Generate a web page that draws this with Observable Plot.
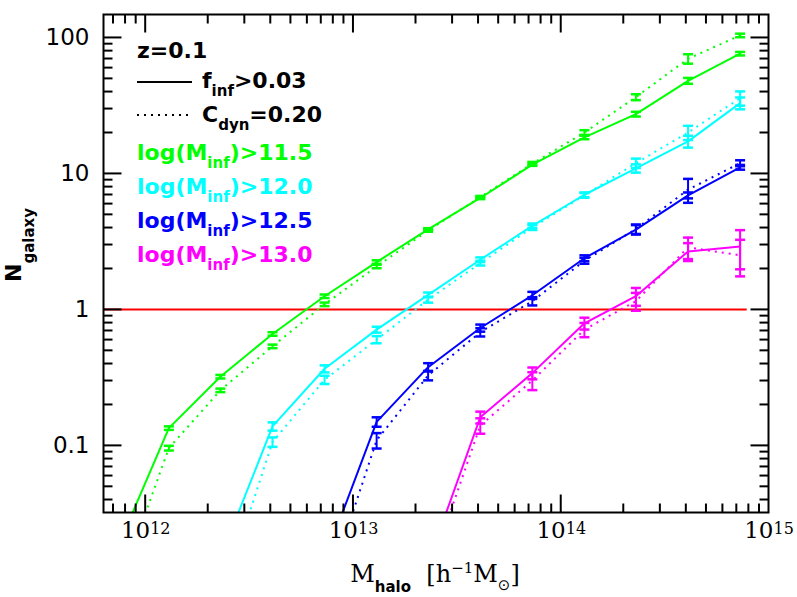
<!DOCTYPE html>
<html>
<head>
<meta charset="utf-8">
<script src="https://cdn.jsdelivr.net/npm/d3@7"></script>
<script src="https://cdn.jsdelivr.net/npm/@observablehq/plot@0.6"></script>
<style>
  html, body { margin: 0; padding: 0; background: #fff; }
  #chart svg { display: block; }
</style>
</head>
<body>
<div id="chart"></div>
<script>
// ---------------- data ----------------
const haloMass = [7.3e11, 1.3e12, 2.3e12, 4.1e12, 7.3e12, 1.3e13, 2.3e13, 4.1e13, 7.3e13, 1.3e14, 2.3e14, 4.1e14, 7.3e14];
const thresholds = ["11.5", "12.0", "12.5", "13.0"];
const seriesColors = ["#00ff00", "#00ffff", "#0000ff", "#ff00ff"];

// solid: f_inf > 0.03 ; dotted: C_dyn = 0.20
const nSolid115  = [0.0172, 0.134, 0.32, 0.66, 1.25, 2.23, 3.88, 6.6, 11.6, 18.4, 27.3, 48, 76];
const nDotted115 = [0.0082, 0.0955, 0.254, 0.535, 1.09, 2.07, 3.8, 6.7, 11.8, 20.0, 36.4, 69.7, 103.5];
const nSolid120  = [null, null, 0.0148, 0.138, 0.366, 0.71, 1.28, 2.32, 4.12, 6.97, 10.9, 17.2, 32.9];
const nDotted120 = [null, null, 0.007, 0.106, 0.304, 0.60, 1.18, 2.19, 4.0, 6.9, 11.9, 20.0, 35.8];
const nSolid125  = [null, null, null, null, 0.0143, 0.149, 0.376, 0.73, 1.27, 2.38, 3.86, 6.9, 11.1];
const nDotted125 = [null, null, null, null, 0.0076, 0.109, 0.327, 0.68, 1.15, 2.28, 3.9, 7.6, 11.9];
const nSolid130  = [null, null, null, null, null, null, 0.0136, 0.161, 0.34, 0.79, 1.25, 2.67, 2.9];
const nDotted130 = [null, null, null, null, null, null, 0.0109, 0.14, 0.30, 0.71, 1.15, 2.86, 2.5];

// relative (fractional) errors
const errSolid115  = [0, 0.03, 0.03, 0.03, 0.03, 0.03, 0.02, 0.02, 0.02, 0.03, 0.04, 0.05, 0.03];
const errDotted115 = [0, 0.04, 0.03, 0.03, 0.03, 0.03, 0.02, 0.02, 0.03, 0.04, 0.05, 0.08, 0.03];
const errSolid120  = [0, 0, 0, 0.07, 0.06, 0.05, 0.04, 0.04, 0.04, 0.04, 0.07, 0.10, 0.10];
const errDotted120 = [0, 0, 0, 0.08, 0.07, 0.06, 0.05, 0.04, 0.04, 0.04, 0.08, 0.12, 0.12];
const errSolid125  = [0, 0, 0, 0, 0, 0.08, 0.07, 0.06, 0.06, 0.05, 0.08, 0.05, 0.04];
const errDotted125 = [0, 0, 0, 0, 0, 0.13, 0.08, 0.07, 0.07, 0.05, 0.08, 0.20, 0.05];
const errSolid130  = [0, 0, 0, 0, 0, 0, 0, 0.10, 0.10, 0.10, 0.15, 0.15, 0.32];
const errDotted130 = [0, 0, 0, 0, 0, 0, 0, 0.13, 0.15, 0.12, 0.15, 0.18, 0.30];

const xTickExponents = [12, 13, 14, 15];
const yTickValues = [0.1, 1, 10, 100];
const yTickLabels = ["0.1", "1", "10", "100"];
const referenceLevel = [1];
const referenceLineX = [6.3e11, 7.9e14];

const legendTitle = "z=0.1";
const legendSolid = ["f", "inf", ">0.03"];
const legendDotted = ["C", "dyn", "=0.20"];

// ---------------- layout ----------------
const W = 797, H = 597;
const mLeft = 103, mRight = 29, mTop = 14, mBottom = 85;
const xDomain = [6.3e11, 1e15];
const yDomain = [0.0321, 147.5];

const seriesDefs = [
  [nSolid115, errSolid115, nDotted115, errDotted115],
  [nSolid120, errSolid120, nDotted120, errDotted120],
  [nSolid125, errSolid125, nDotted125, errDotted125],
  [nSolid130, errSolid130, nDotted130, errDotted130]
];

function rowsFor(values, errs) {
  const out = [];
  values.forEach((v, i) => { if (v != null) out.push({mass: haloMass[i], n: v, err: errs[i]}); });
  return out;
}

const capSymbol = {draw(ctx) { ctx.moveTo(-5, 0); ctx.lineTo(5, 0); }};
const tickSym = (len, dir) => ({draw(ctx) {
  ctx.moveTo(0, 0);
  if (dir === "up") ctx.lineTo(0, -len);
  else if (dir === "down") ctx.lineTo(0, len);
  else if (dir === "right") ctx.lineTo(len, 0);
  else ctx.lineTo(-len, 0);
}});

const xMajor = xTickExponents.map(e => Math.pow(10, e));
const xMinor = [];
for (let e = 11; e <= 14; e++) for (let k = 2; k <= 9; k++) {
  const v = k * Math.pow(10, e);
  if (v > xDomain[0] && v < xDomain[1]) xMinor.push(v);
}
const yMinor = [];
for (let e = -2; e <= 2; e++) for (let k = 2; k <= 9; k++) {
  const v = k * Math.pow(10, e);
  if (v > yDomain[0] && v < yDomain[1]) yMinor.push(v);
}

const marks = [];
// reference line N=1
marks.push(Plot.ruleY(referenceLevel, {y: d => d, x1: () => referenceLineX[0], x2: () => referenceLineX[1], stroke: "#ff0000", strokeWidth: 2}));

seriesDefs.forEach(([sv, se, dv, de], si) => {
  const color = seriesColors[si];
  [[sv, se, null], [dv, de, "2,5"]].forEach(([vals, errs, dash]) => {
    const rows = rowsFor(vals, errs);
    marks.push(Plot.line(rows, {x: "mass", y: "n", stroke: color, strokeWidth: 2, strokeDasharray: dash,
      strokeLinecap: dash ? "butt" : "round", strokeLinejoin: "round", clip: true}));
    const eb = rows.filter(d => d.err > 0 && d.n > yDomain[0]);
    marks.push(Plot.ruleX(eb, {x: "mass", y1: d => d.n * (1 - d.err), y2: d => d.n * (1 + d.err), stroke: color, strokeWidth: 2, clip: true}));
    marks.push(Plot.dot(eb, {x: "mass", y: d => d.n * (1 - d.err), symbol: capSymbol, stroke: color, fill: "none", strokeWidth: 2.5}));
    marks.push(Plot.dot(eb, {x: "mass", y: d => d.n * (1 + d.err), symbol: capSymbol, stroke: color, fill: "none", strokeWidth: 2.5}));
  });
});

// inward ticks on all four sides
const tickStyle = {stroke: "black", fill: "none", strokeWidth: 2};
marks.push(
  Plot.dot(xMajor.filter(v => v < xDomain[1]), {x: d => d, y: () => yDomain[0], symbol: tickSym(18, "up"), ...tickStyle}),
  Plot.dot(xMinor, {x: d => d, y: () => yDomain[0], symbol: tickSym(9, "up"), ...tickStyle}),
  Plot.dot(xMajor.filter(v => v < xDomain[1]), {x: d => d, y: () => yDomain[1], symbol: tickSym(18, "down"), ...tickStyle}),
  Plot.dot(xMinor, {x: d => d, y: () => yDomain[1], symbol: tickSym(9, "down"), ...tickStyle}),
  Plot.dot(yTickValues, {y: d => d, x: () => xDomain[0], symbol: tickSym(18, "right"), ...tickStyle}),
  Plot.dot(yMinor, {y: d => d, x: () => xDomain[0], symbol: tickSym(9, "right"), ...tickStyle}),
  Plot.dot(yTickValues, {y: d => d, x: () => xDomain[1], symbol: tickSym(18, "left"), ...tickStyle}),
  Plot.dot(yMinor, {y: d => d, x: () => xDomain[1], symbol: tickSym(9, "left"), ...tickStyle})
);

// tick labels
marks.push(
  Plot.text(yTickValues, {y: d => d, frameAnchor: "left", dx: -14, textAnchor: "end", text: (d, i) => yTickLabels[i], fontSize: 23, fontFamily: "DejaVu Sans", fill: "black"}),
  Plot.text(xMajor, {x: d => d, frameAnchor: "bottom", dy: 25, dx: 5, textAnchor: "end", text: () => "10", fontSize: 23, fontFamily: "DejaVu Serif", fill: "black"}),
  Plot.text(xMajor, {x: d => d, frameAnchor: "bottom", dy: 21, dx: 5, textAnchor: "start", text: (d, i) => String(xTickExponents[i]), fontSize: 16, fontFamily: "DejaVu Serif", fill: "black"})
);

marks.push(Plot.frame({stroke: "black", strokeWidth: 2}));

const chart = Plot.plot({
  width: W, height: H,
  marginLeft: mLeft, marginRight: mRight, marginTop: mTop, marginBottom: mBottom,
  x: {type: "log", domain: xDomain, axis: null},
  y: {type: "log", domain: yDomain, axis: null},
  style: {background: "white", overflow: "visible"},
  marks
});
document.getElementById("chart").appendChild(chart);

// ---------------- rich text (legend and axis titles) ----------------
const svg = d3.select(chart);
const ann = svg.append("g");

function rich(parent, x, y, parts, opts = {}) {
  const t = parent.append("text").attr("x", x).attr("y", y)
    .attr("fill", opts.fill || "black")
    .attr("text-anchor", opts.anchor || "start");
  if (opts.transform) t.attr("transform", opts.transform);
  let shift = 0;
  parts.forEach(p => {
    const target = p.kind === "sub" ? (p.shift ?? 8) : p.kind === "sup" ? -(p.shift ?? 9) : 0;
    t.append("tspan")
      .attr("dy", target - shift)
      .attr("font-family", p.family || "DejaVu Sans")
      .attr("font-weight", p.weight || "bold")
      .attr("font-size", p.size || 22)
      .text(p.t);
    shift = target;
  });
  return t;
}

// legend
rich(ann, 137, 58, [{t: legendTitle}]);
ann.append("line").attr("x1", 137).attr("x2", 192).attr("y1", 82).attr("y2", 82)
  .attr("stroke", "black").attr("stroke-width", 2);
rich(ann, 202, 88, [{t: legendSolid[0]}, {t: legendSolid[1], kind: "sub", size: 15}, {t: legendSolid[2]}]);
ann.append("line").attr("x1", 137).attr("x2", 192).attr("y1", 115).attr("y2", 115)
  .attr("stroke", "black").attr("stroke-width", 2).attr("stroke-dasharray", "2,5");
rich(ann, 202, 122, [{t: legendDotted[0]}, {t: legendDotted[1], kind: "sub", size: 15}, {t: legendDotted[2]}]);
thresholds.forEach((thr, i) => {
  rich(ann, 137, 160 + i * 34, [{t: "log(M"}, {t: "inf", kind: "sub", size: 15}, {t: ")>" + thr}], {fill: seriesColors[i]});
});

// x title
rich(ann, 435, 582, [
  {t: "M", family: "DejaVu Serif", weight: "normal", size: 24},
  {t: "halo", kind: "sub", shift: 10, size: 15},
  {t: "  [h", family: "DejaVu Serif", weight: "normal", size: 24},
  {t: "\u22121", kind: "sup", shift: 9, family: "DejaVu Serif", weight: "normal", size: 15},
  {t: "M", family: "DejaVu Serif", weight: "normal", size: 24},
  {t: "\u2299", kind: "sub", shift: 8, family: "DejaVu Sans", weight: "normal", size: 15},
  {t: "]", family: "DejaVu Serif", weight: "normal", size: 24}
], {anchor: "middle"}).attr("xml:space", "preserve").style("white-space", "pre");

// y title
rich(ann, 0, 0, [
  {t: "N", size: 22},
  {t: "galaxy", kind: "sub", shift: 13, size: 15}
], {anchor: "middle", transform: "translate(21,245) rotate(-90)"});
</script>
</body>
</html>
